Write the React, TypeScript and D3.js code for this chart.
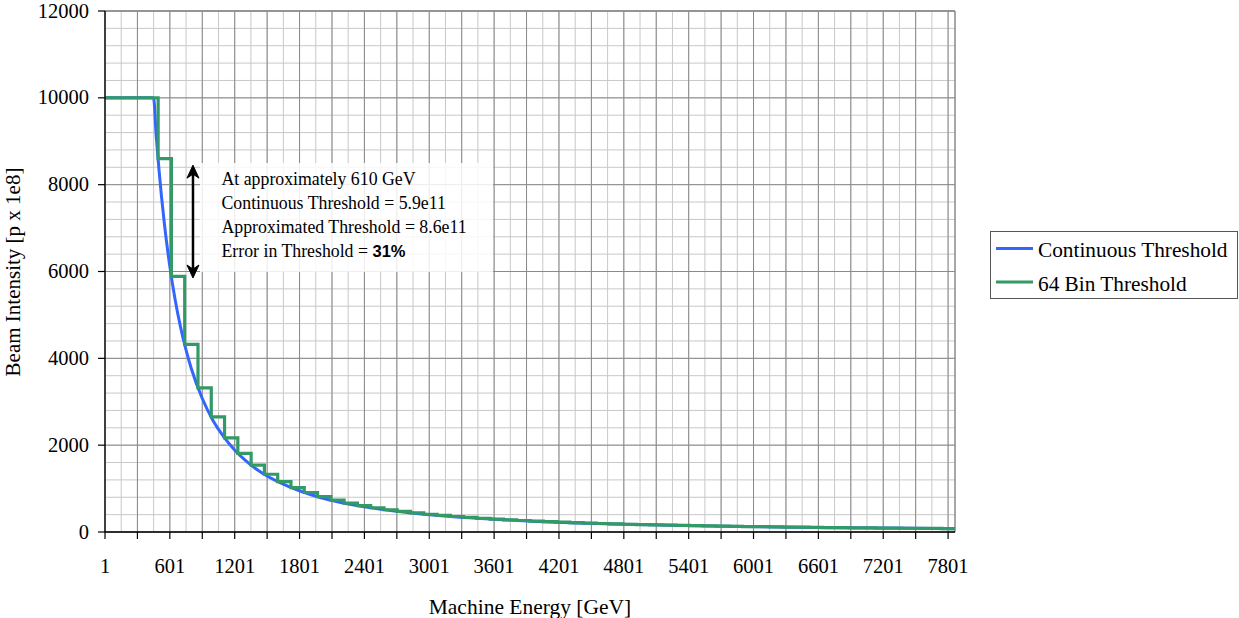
import React from "react";
import * as d3 from "d3";

// (energy in GeV, intensity in p x 1e8)
const continuousEnergy = [1, 450, 475, 500, 550, 600, 650, 700, 750, 800, 900, 1000, 1100, 1200, 1300, 1400, 1500, 1600, 1800, 2000, 2400, 2800, 3200, 3600, 4000, 4800, 5600, 6400, 7200, 7865];
const continuousValue = [10000, 10000, 9120, 8360, 7110, 6130, 5350, 4720, 4200, 3760, 3080, 2570, 2190, 1890, 1650, 1450, 1290, 1160, 950, 790, 580, 447, 356, 292, 244, 179, 138, 110, 90, 77];

// 64 bins, one value per bin
const binValues = [
  10000, 10000, 10000, 10000, 8600, 5890, 4320, 3320, 2650, 2170,
  1810, 1540, 1330, 1160, 1020, 910, 815, 735, 667, 609,
  558, 513, 474, 440, 409, 382, 357, 335, 315, 297,
  280, 265, 251, 238, 226, 215, 205, 196, 187, 179,
  172, 165, 158, 152, 146, 140, 135, 130, 126, 122,
  117, 114, 110, 106, 103, 100, 97, 94, 91, 89,
  86, 84, 82, 79,
];
const binWidth = 122.9;
const maxEnergy = 7865;

const xTickLabels = ["1", "601", "1201", "1801", "2401", "3001", "3601", "4201", "4801", "5401", "6001", "6601", "7201", "7801"];
const yTickLabels = [0, 2000, 4000, 6000, 8000, 10000, 12000];

const annotationLines = [
  "At approximately 610 GeV",
  "Continuous Threshold = 5.9e11",
  "Approximated Threshold = 8.6e11",
];
const arrowFrom = 8450;
const arrowTo = 5850;
const arrowEnergy = 815;

const BLUE = "#3366ff";
const GREEN = "#339966";
const SERIF = "'Liberation Serif', 'Times New Roman', serif";

export default function App() {
  const left = 105, right = 955, top = 11, bottom = 532;

  const x = d3.scaleLinear().domain([1, maxEnergy]).range([left, right]);
  const y = d3.scaleLinear().domain([0, 12000]).range([bottom, top]);

  const minorX = d3.range(1, maxEnergy, 150);
  const majorX = d3.range(1, maxEnergy, 300);
  const minorY = d3.range(0, 12001, 400);

  const contPts = continuousEnergy.map((e, i) => [e, continuousValue[i]] as [number, number]);
  const contLine = d3.line<[number, number]>()
    .x(d => x(d[0]))
    .y(d => y(d[1]))
    .curve(d3.curveMonotoneX);

  const stepPts: [number, number][] = binValues.map((v, i) => [1 + i * binWidth, v]);
  stepPts.push([maxEnergy, binValues[binValues.length - 1]]);
  const stepLine = d3.line<[number, number]>()
    .x(d => x(d[0]))
    .y(d => y(d[1]))
    .curve(d3.curveStepAfter);

  const ax = x(arrowEnergy);
  const ay1 = y(arrowFrom);
  const ay2 = y(arrowTo);

  return (
    <svg width={1239} height={618} style={{ position: "absolute", left: 0, top: 0, background: "#fff" }} fontFamily={SERIF}>
      {/* minor grid */}
      {minorX.map(v => (
        <line key={"mx" + v} x1={x(v)} x2={x(v)} y1={top} y2={bottom} stroke="#c8c8c8" strokeWidth={1} />
      ))}
      {minorY.map(v => (
        <line key={"my" + v} x1={left} x2={right} y1={y(v)} y2={y(v)} stroke="#c8c8c8" strokeWidth={1} />
      ))}
      {/* major grid */}
      {majorX.map(v => (
        <line key={"Mx" + v} x1={x(v)} x2={x(v)} y1={top} y2={bottom} stroke="#8a8a8a" strokeWidth={1} />
      ))}
      {yTickLabels.map(v => (
        <line key={"My" + v} x1={left} x2={right} y1={y(v)} y2={y(v)} stroke="#8a8a8a" strokeWidth={1} />
      ))}
      <line x1={right} x2={right} y1={top} y2={bottom} stroke="#8a8a8a" strokeWidth={1.5} />
      <line x1={left} x2={right} y1={top} y2={top} stroke="#8a8a8a" strokeWidth={1.5} />

      {/* series */}
      <path d={contLine(contPts) || ""} fill="none" stroke={BLUE} strokeWidth={3} />
      <path d={stepLine(stepPts) || ""} fill="none" stroke={GREEN} strokeWidth={3.2} />

      {/* axes */}
      <line x1={left} x2={left} y1={top} y2={bottom} stroke="#000" strokeWidth={1.3} />
      <line x1={left} x2={right} y1={bottom} y2={bottom} stroke="#000" strokeWidth={1.3} />
      {yTickLabels.map(v => (
        <g key={"yt" + v}>
          <line x1={left - 7} x2={left} y1={y(v)} y2={y(v)} stroke="#000" strokeWidth={1.2} />
          <text x={89} y={y(v) + 6.5} textAnchor="end" fontSize={20.5} fill="#000">{v}</text>
        </g>
      ))}
      {majorX.map(v => (
        <line key={"xt" + v} x1={x(v)} x2={x(v)} y1={bottom} y2={bottom + 7} stroke="#000" strokeWidth={1.2} />
      ))}
      {xTickLabels.map(l => (
        <text key={"xl" + l} x={x(+l)} y={573} textAnchor="middle" fontSize={20.5} fill="#000">{l}</text>
      ))}
      <text x={530} y={614} textAnchor="middle" fontSize={21.5} fill="#000">Machine Energy [GeV]</text>
      <text transform="translate(20,272) rotate(-90)" textAnchor="middle" fontSize={21} fill="#000">Beam Intensity [p x 1e8]</text>

      {/* annotation */}
      <rect x={200} y={163} width={293} height={109} fill="#fff" fillOpacity={0.85} />
      {annotationLines.map((t, i) => (
        <text key={"an" + i} x={221.5} y={184.5 + i * 24.2} fontSize={17.8} fill="#000">{t}</text>
      ))}
      <text x={221.5} y={257} fontSize={17.8} fill="#000">
        Error in Threshold ={" "}
        <tspan fontFamily="'Liberation Sans', Arial, sans-serif" fontWeight="bold" fontSize={16.5}>31%</tspan>
      </text>
      <line x1={ax} x2={ax} y1={ay1 + 8} y2={ay2 - 8} stroke="#000" strokeWidth={2.5} />
      <path d={`M${ax},${ay1} L${ax - 6},${ay1 + 13} L${ax},${ay1 + 9} L${ax + 6},${ay1 + 13} Z`} fill="#000" stroke="#000" strokeWidth={1} strokeLinejoin="miter" />
      <path d={`M${ax},${ay2} L${ax - 6},${ay2 - 13} L${ax},${ay2 - 9} L${ax + 6},${ay2 - 13} Z`} fill="#000" stroke="#000" strokeWidth={1} strokeLinejoin="miter" />

      {/* legend */}
      <rect x={990.5} y={231.5} width={247} height={67} fill="#fff" stroke="#555" strokeWidth={1} />
      <line x1={996} x2={1033} y1={248.5} y2={248.5} stroke={BLUE} strokeWidth={3} />
      <text x={1038} y={257} fontSize={21.3} fill="#000">Continuous Threshold</text>
      <line x1={996} x2={1033} y1={282} y2={282} stroke={GREEN} strokeWidth={3} />
      <text x={1038} y={291} fontSize={21.3} fill="#000">64 Bin Threshold</text>
    </svg>
  );
}
